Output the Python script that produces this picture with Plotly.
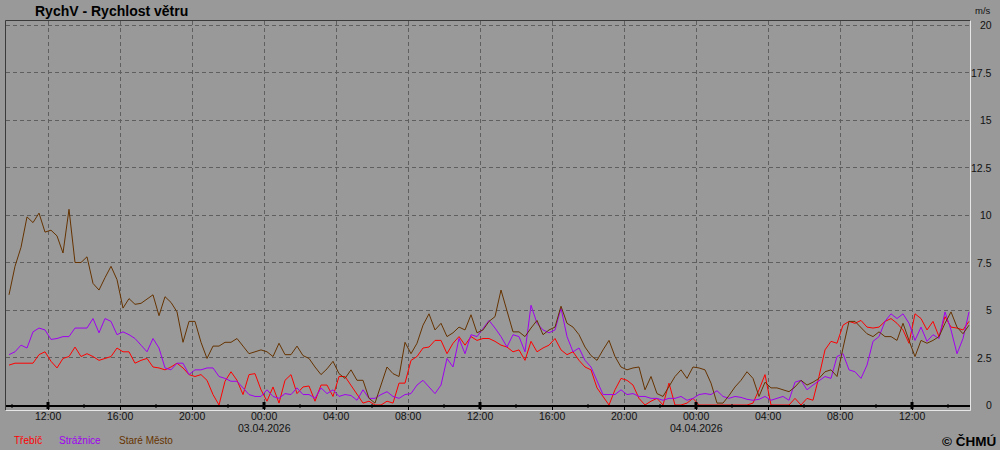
import pandas as pd
import plotly.graph_objects as go

# ---------------- data ----------------
start_time = "2026-04-02 09:50"
step = "20min"

series_names = ["Třebíč", "Strážnice", "Staré Město"]
series_colors = ["#ff0000", "#a000f0", "#663300"]

trebic = [
    2.1, 2.2, 2.2, 2.2, 2.2, 2.65, 2.8, 2.3, 1.95, 2.45,
    2.55, 3.05, 2.55, 2.7, 2.55, 2.35, 2.45, 2.55, 3.0, 2.8,
    2.8, 2.2, 2.35, 2.45, 2.0, 1.95, 1.85, 2.0, 2.2, 1.95,
    1.6, 1.5, 1.6, 1.3, 0.55, 0.0, 1.25, 1.75, 1.3, 0.55, 1.6,
    1.65, 0.8, 0.2, 0.95, 0.1, 1.3, 1.6, 0.6, 0.95, 1.0,
    0.2, 1.05, 1.05, 0.45, 1.5, 1.5, 1.05, 0.6, 0.1, 0.2,
    0.0, 0.0, 0.2, 0.1, 1.15, 1.15, 2.35, 2.55, 3.0, 3.05,
    3.4, 3.4, 2.7, 3.25, 3.6, 3.15, 3.6, 3.4, 3.5, 3.5,
    3.35, 3.15, 3.05, 2.8, 2.9, 2.35, 3.35, 2.8, 3.0, 3.15,
    3.5, 2.9, 2.65, 2.8, 2.35, 2.0, 1.85, 0.9, 0.45, 0.0,
    0.8, 1.4, 1.3, 1.05, 0.35, 0.0, 0.2, 0.35, 0.0, 1.15,
    0.0, 0.0, 0.1, 0.35, 0.0, 0.0, 0.0, 0.0, 0.0, 0.0,
    0.0, 0.0, 0.0, 0.1, 0.8, 1.6, 0.0, 0.0, 0.0, 0.0,
    0.35, 0.0, 0.35, 0.25, 1.5, 2.9, 3.35, 3.25, 4.2, 4.4,
    4.3, 4.45, 4.1, 4.05, 4.1, 4.4, 4.55, 4.3, 3.95, 3.25,
    4.8, 4.55, 3.95, 4.4, 3.6, 4.65, 4.1, 4.05, 3.95, 4.4,
]

straznice = [
    2.65, 2.8, 3.15, 3.0, 3.85, 4.05, 3.95, 3.45, 3.5, 3.6,
    3.6, 4.05, 4.05, 4.05, 4.55, 3.8, 4.55, 4.4, 3.7, 3.85,
    3.7, 3.5, 3.15, 2.8, 3.5, 3.0, 1.95, 1.85, 2.2, 2.2,
    1.6, 1.85, 1.85, 1.95, 1.95, 1.5, 1.4, 1.25, 1.25, 0.9, 0.55,
    0.45, 0.45, 0.8, 0.45, 0.35, 0.6, 0.55, 0.9, 0.55, 0.55,
    0.35, 0.9, 0.6, 0.8, 0.45, 0.55, 0.5, 0.25, 0.8, 0.35,
    0.35, 0.55, 0.7, 0.45, 0.35, 0.55, 0.6, 1.05, 1.3, 0.95,
    0.6, 1.05, 2.45, 2.0, 3.5, 2.7, 3.7, 3.6, 4.05, 4.45,
    4.05, 3.6, 3.05, 3.7, 3.6, 2.8, 5.25, 4.3, 3.95, 3.8,
    3.95, 5.1, 3.6, 2.8, 3.0, 2.35, 2.0, 1.3, 0.55, 0.55,
    0.55, 0.8, 0.55, 0.6, 0.45, 0.45, 0.35, 0.35, 0.25, 0.35,
    0.35, 0.45, 0.25, 0.35, 0.55, 0.6, 0.55, 0.75, 0.45, 0.35,
    0.45, 0.4, 0.3, 0.25, 0.3, 0.45, 0.25, 0.35, 0.45, 0.25,
    1.2, 1.3, 0.8, 1.05, 1.3, 1.5, 1.4, 2.55, 2.7, 1.85,
    1.75, 1.4, 2.1, 3.35, 3.6, 4.4, 4.8, 4.55, 4.8, 4.3,
    3.4, 4.1, 3.35, 3.7, 3.5, 4.9, 3.95, 2.7, 3.5, 4.9,
]

stare_mesto = [
    5.8, 7.3, 8.3, 9.9, 9.6, 10.1, 9.1, 9.2, 8.9, 8.0,
    10.3, 7.5, 7.5, 7.8, 6.4, 6.05, 6.7, 7.3, 6.6, 5.1,
    5.6, 5.3, 5.35, 5.6, 5.8, 4.7, 5.7, 5.4, 4.9, 3.3,
    4.4, 4.4, 3.3, 2.45, 3.1, 3.1, 3.3, 3.3, 3.5, 3.1, 2.7,
    2.8, 2.9, 2.8, 2.55, 3.25, 2.65, 2.65, 3.1, 2.6, 2.45,
    2.0, 1.6, 1.9, 2.3, 1.65, 1.4, 1.85, 1.3, 1.3, 0.35,
    0.1, 1.05, 2.0, 1.65, 1.5, 3.3, 2.7, 3.25, 4.2, 4.8,
    3.95, 4.3, 3.6, 3.8, 4.1, 3.95, 4.75, 3.8, 3.95, 4.4,
    4.65, 6.05, 5.0, 3.85, 3.85, 3.6, 4.05, 4.45, 3.7, 3.95,
    4.1, 5.2, 4.3, 4.1, 3.7, 3.05, 2.6, 2.35, 2.9, 3.4,
    2.55, 2.0, 1.85, 1.95, 2.0, 0.8, 1.5, 0.6, 0.45, 0.95,
    1.5, 1.85, 1.4, 2.0, 1.95, 1.85, 1.15, 0.1, 0.1, 0.5,
    0.95, 1.3, 1.75, 1.4, 0.45, 1.2, 0.9, 0.9, 0.8, 0.7,
    0.95, 1.3, 1.05, 1.2, 1.4, 1.75, 1.85, 1.5, 3.0, 4.4,
    4.4, 4.1, 3.75, 3.6, 3.85, 3.6, 3.6, 3.4, 4.3, 3.4,
    2.55, 3.4, 3.25, 3.4, 3.6, 4.3, 4.9, 4.1, 3.75, 4.2,
]

tick_times = [
    "2026-04-02 12:00", "2026-04-02 16:00", "2026-04-02 20:00",
    "2026-04-03 00:00", "2026-04-03 04:00", "2026-04-03 08:00",
    "2026-04-03 12:00", "2026-04-03 16:00", "2026-04-03 20:00",
    "2026-04-04 00:00", "2026-04-04 04:00", "2026-04-04 08:00",
    "2026-04-04 12:00",
]
tick_labels = ["12:00", "16:00", "20:00", "00:00", "04:00", "08:00",
               "12:00", "16:00", "20:00", "00:00", "04:00", "08:00", "12:00"]
minor_tick_times = [
    "2026-04-02 10:00", "2026-04-02 14:00", "2026-04-02 18:00", "2026-04-02 22:00",
    "2026-04-03 02:00", "2026-04-03 06:00", "2026-04-03 10:00", "2026-04-03 14:00",
    "2026-04-03 18:00", "2026-04-03 22:00", "2026-04-04 02:00", "2026-04-04 06:00",
    "2026-04-04 10:00", "2026-04-04 14:00",
]
major_tick_times = ["2026-04-02 12:00", "2026-04-03 00:00", "2026-04-03 12:00",
                    "2026-04-04 00:00", "2026-04-04 12:00"]
date_label_times = ["2026-04-03 00:00", "2026-04-04 00:00"]
date_labels = ["03.04.2026", "04.04.2026"]
y_ticks = [0, 2.5, 5, 7.5, 10, 12.5, 15, 17.5, 20]
y_tick_labels = ["0", "2.5", "5", "7.5", "10", "12.5", "15", "17.5", "20"]

title_text = "RychV - Rychlost větru"
unit_text = "m/s"
copyright_text = "© ČHMÚ"

# ---------------- figure ----------------
W, H = 1000, 450
PL, PR, PT, PB = 6, 970, 21, 405      # plot area in pixels
BG = "#999999"
GRID = "#5f5f5f"
TXT = "#111111"
FONT = "Liberation Sans, Arial, sans-serif"

PW = PR - PL
PH = PB - PT

times = pd.date_range(start=start_time, periods=len(trebic), freq=step)

def px_x(p):
    return (p - PL) / PW

def px_y(p):
    return (PB - p) / PH

fig = go.Figure()
for name, vals, col in zip(series_names, [trebic, straznice, stare_mesto], series_colors):
    fig.add_trace(go.Scatter(x=times, y=vals, mode="lines", name=name,
                             line=dict(color=col, width=1), showlegend=False,
                             cliponaxis=False))

x_start = pd.Timestamp("2026-04-02 09:40")
x_end = pd.Timestamp("2026-04-04 15:13:20")

fig.update_layout(
    template="none",
    width=W, height=H,
    margin=dict(l=PL, r=W - PR, t=PT, b=H - PB, pad=0, autoexpand=False),
    paper_bgcolor=BG, plot_bgcolor=BG,
    font=dict(family=FONT, size=11, color=TXT),
    showlegend=False,
    xaxis=dict(
        type="date",
        range=[x_start, x_end],
        automargin=False,
        tickmode="array", tickvals=tick_times,
        showticklabels=False,
        ticks="outside", ticklen=3, tickwidth=1, tickcolor="#000000",
        showgrid=True, gridcolor=GRID, gridwidth=1, griddash="4px,3px",
        showline=True, linecolor="#000000", linewidth=2,
        zeroline=False,
    ),
    yaxis=dict(
        range=[0, 20 + (25 - PT) / 19],
        automargin=False,
        tickmode="array", tickvals=y_ticks,
        showticklabels=False,
        ticks="", showline=False, zeroline=False,
        showgrid=True, gridcolor=GRID, gridwidth=1, griddash="4px,3px",
    ),
)

shapes = []
# minor (2-hourly) ticks
for t in minor_tick_times:
    shapes.append(dict(type="line", xref="x", yref="paper", x0=t, x1=t,
                       ysizemode="pixel", yanchor=0, y0=-3, y1=1,
                       line=dict(color="#000000", width=1), layer="above"))
# thick ticks at 00:00 and 12:00
for t in major_tick_times:
    shapes.append(dict(type="line", xref="x", yref="paper", x0=t, x1=t,
                       ysizemode="pixel", yanchor=0, y0=-4, y1=3,
                       line=dict(color="#000000", width=3), layer="above"))
# 3D frame: dark top/left, light bottom/right
dark, light = "#3a3a3a", "#e6e6e6"
fx0 = px_x(5.5)
fx1 = px_x(970.5)
fy_top = px_y(20.5)
fy_bot = px_y(410.5)
shapes += [
    dict(type="line", xref="paper", yref="paper", x0=fx0, x1=fx1, y0=fy_top, y1=fy_top,
         line=dict(color=dark, width=1), layer="above"),
    dict(type="line", xref="paper", yref="paper", x0=fx0, x1=fx0, y0=fy_bot, y1=fy_top,
         line=dict(color=dark, width=1), layer="above"),
    dict(type="line", xref="paper", yref="paper", x0=fx1, x1=fx1, y0=fy_bot, y1=fy_top,
         line=dict(color=light, width=1), layer="above"),
    dict(type="line", xref="paper", yref="paper", x0=fx0, x1=fx1, y0=fy_bot, y1=fy_bot,
         line=dict(color=light, width=1), layer="above"),
]
fig.update_layout(shapes=shapes)

ann = []
ann.append(dict(text=f"<b>{title_text}</b>", xref="paper", yref="paper",
                x=px_x(33), y=px_y(11), xanchor="left", yanchor="middle",
                showarrow=False, font=dict(family=FONT, size=14, color="#000000")))
ann.append(dict(text=unit_text, xref="paper", yref="paper",
                x=px_x(993), y=px_y(11), xanchor="right", yanchor="middle",
                showarrow=False, font=dict(family=FONT, size=9.5, color=TXT)))
for v, lab in zip(y_ticks, y_tick_labels):
    ann.append(dict(text=lab, xref="paper", yref="y", x=px_x(994), y=v,
                    xanchor="right", yanchor="middle", showarrow=False,
                    font=dict(family=FONT, size=10.5, color=TXT)))
for t, lab in zip(tick_times, tick_labels):
    ann.append(dict(text=lab, xref="x", yref="paper", x=t, y=px_y(416),
                    xanchor="center", yanchor="middle", showarrow=False,
                    font=dict(family=FONT, size=10.5, color=TXT)))
for t, lab in zip(date_label_times, date_labels):
    ann.append(dict(text=lab, xref="x", yref="paper", x=t, y=px_y(428),
                    xanchor="center", yanchor="middle", showarrow=False,
                    font=dict(family=FONT, size=10.5, color=TXT)))
ann.append(dict(text=f"<b>{copyright_text}</b>", xref="paper", yref="paper",
                x=px_x(998), y=px_y(441), xanchor="right", yanchor="middle",
                showarrow=False, font=dict(family=FONT, size=13.5, color="#000000")))
legend_x = [12, 57, 117]
for name, col, lx in zip(series_names, series_colors, legend_x):
    ann.append(dict(text=name, xref="paper", yref="paper",
                    x=px_x(lx), y=px_y(440), xanchor="left", yanchor="middle",
                    showarrow=False, font=dict(family=FONT, size=10, color=col)))
fig.update_layout(annotations=ann)

fig.write_html("out.html",
               config={"displayModeBar": False},
               post_script="document.body.style.margin='0';document.body.style.overflow='hidden';")
